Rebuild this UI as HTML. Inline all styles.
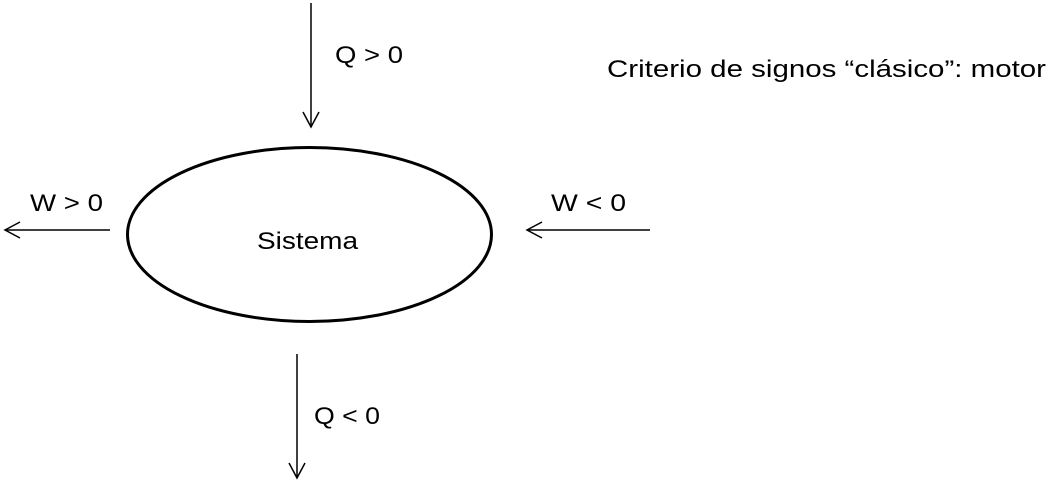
<!DOCTYPE html>
<html>
<head>
<meta charset="utf-8">
<style>
  html, body { margin: 0; padding: 0; background: #fff; }
  svg { display: block; }
  text { font-family: "Liberation Sans", sans-serif; fill: #000; }
</style>
</head>
<body>
<svg width="1053" height="481" viewBox="0 0 1053 481">
  <g stroke="#000" fill="none" stroke-width="1.5">
    <g>
      <line x1="311" y1="3" x2="311" y2="127"/>
      <polyline points="303,112 311,127 319,112"/>
    </g>
    <g>
      <line x1="110" y1="230" x2="5" y2="230"/>
      <polyline points="20,222 5,230 20,238"/>
    </g>
    <g>
      <line x1="650" y1="230" x2="527" y2="230"/>
      <polyline points="542,222 527,230 542,238"/>
    </g>
    <g>
      <line x1="297" y1="354" x2="297" y2="478"/>
      <polyline points="289,463 297,478 305,463"/>
    </g>
  </g>
  <ellipse cx="309.5" cy="234.5" rx="182" ry="87" fill="none" stroke="#000" stroke-width="3"/>
  <text x="257" y="249" font-size="24" textLength="101" lengthAdjust="spacingAndGlyphs">Sistema</text>
  <text x="335" y="63" font-size="24" textLength="68" lengthAdjust="spacingAndGlyphs">Q &gt; 0</text>
  <text x="30" y="211" font-size="24" textLength="73" lengthAdjust="spacingAndGlyphs">W &gt; 0</text>
  <text x="551" y="211" font-size="24" textLength="75" lengthAdjust="spacingAndGlyphs">W &lt; 0</text>
  <text x="314" y="424" font-size="24" textLength="66" lengthAdjust="spacingAndGlyphs">Q &lt; 0</text>
  <text x="607" y="77" font-size="24" textLength="439" lengthAdjust="spacingAndGlyphs">Criterio de signos “clásico”: motor</text>
</svg>
</body>
</html>
